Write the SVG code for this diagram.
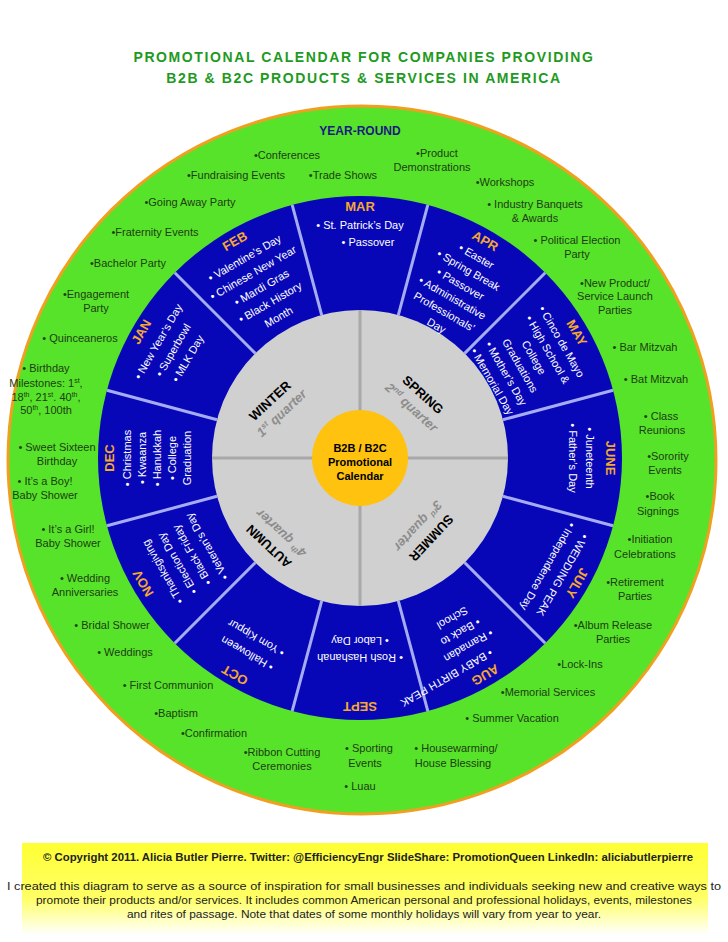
<svg xmlns="http://www.w3.org/2000/svg" width="728" height="942" viewBox="0 0 728 942">
<defs>
<linearGradient id="fy" x1="0" y1="0" x2="0" y2="1"><stop offset="0" stop-color="#ffff33"/><stop offset="0.6" stop-color="#ffff66"/><stop offset="1" stop-color="#ffffff"/></linearGradient>
<style>
text{font-family:"Liberation Sans",Arial,sans-serif}
.t{font-size:14px;font-weight:bold;fill:#1e9a1e;text-anchor:middle;letter-spacing:1.6px}
.g{font-size:11px;fill:#1d3d12;text-anchor:middle}
.ml{font-size:13px;font-weight:bold;fill:#f5a830;text-anchor:middle}
.mi{font-size:11px;fill:#ffffff;text-anchor:middle}
.q{font-size:13px;font-weight:bold;fill:#000;text-anchor:middle}
.qq{font-size:13px;font-weight:bold;font-style:italic;fill:#8c8c8c;text-anchor:middle}
.div{stroke:#a6acf2;stroke-width:3}
.f{font-size:11px;fill:#222;text-anchor:middle}
</style>
</defs>
<rect width="728" height="942" fill="#fff"/>
<text class="t" x="364" y="62">PROMOTIONAL CALENDAR FOR COMPANIES PROVIDING</text>
<text class="t" x="364" y="83">B2B &amp; B2C PRODUCTS &amp; SERVICES IN AMERICA</text>
<g id="wheel">
<circle cx="362" cy="460" r="354" fill="#57e32a" stroke="#f0a020" stroke-width="3"/>
<circle cx="360" cy="458" r="262" fill="#0707b8"/>
<circle cx="360" cy="458" r="148" fill="#d0d0d0"/>
</g>
<g id="connectors">
<g id="dividers">
<line class="div" x1="360" y1="310" x2="360" y2="196" transform="rotate(15 360 458)"/>
<line class="div" x1="360" y1="310" x2="360" y2="196" transform="rotate(45 360 458)"/>
<line class="div" x1="360" y1="310" x2="360" y2="196" transform="rotate(75 360 458)"/>
<line class="div" x1="360" y1="310" x2="360" y2="196" transform="rotate(105 360 458)"/>
<line class="div" x1="360" y1="310" x2="360" y2="196" transform="rotate(135 360 458)"/>
<line class="div" x1="360" y1="310" x2="360" y2="196" transform="rotate(165 360 458)"/>
<line class="div" x1="360" y1="310" x2="360" y2="196" transform="rotate(195 360 458)"/>
<line class="div" x1="360" y1="310" x2="360" y2="196" transform="rotate(225 360 458)"/>
<line class="div" x1="360" y1="310" x2="360" y2="196" transform="rotate(255 360 458)"/>
<line class="div" x1="360" y1="310" x2="360" y2="196" transform="rotate(285 360 458)"/>
<line class="div" x1="360" y1="310" x2="360" y2="196" transform="rotate(315 360 458)"/>
<line class="div" x1="360" y1="310" x2="360" y2="196" transform="rotate(345 360 458)"/>
</g>
<g stroke="#a8a8a8" stroke-width="3">
<line x1="360" y1="310" x2="360" y2="606"/>
<line x1="212" y1="458" x2="508" y2="458"/>
</g>
</g>
<g id="center">
<circle cx="360" cy="458" r="48" fill="#ffc20e"/>
<text class="q" style="font-size:11px" x="360" y="452">B2B / B2C</text>
<text class="q" style="font-size:11px" x="360" y="466">Promotional</text>
<text class="q" style="font-size:11px" x="360" y="480">Calendar</text>
</g>
<g id="quarters">
<g transform="translate(273,404) rotate(-43)"><text class="q" x="0" y="0">WINTER</text><text class="qq" x="0" y="17">1<tspan font-size="8" dy="-5">st</tspan><tspan dy="5"> quarter</tspan></text></g>
<g transform="translate(420,398) rotate(42)"><text class="q" x="0" y="0">SPRING</text><text class="qq" x="0" y="17">2<tspan font-size="8" dy="-5">nd</tspan><tspan dy="5"> quarter</tspan></text></g>
<g transform="translate(428,535) rotate(133)"><text class="q" x="0" y="0">SUMMER</text><text class="qq" x="0" y="18">3<tspan font-size="8" dy="-5">rd</tspan><tspan dy="5"> quarter</tspan></text></g>
<g transform="translate(272,543) rotate(223)"><text class="q" x="0" y="0">AUTUMN</text><text class="qq" x="0" y="18">4<tspan font-size="8" dy="-5">th</tspan><tspan dy="5"> quarter</tspan></text></g>
</g>
<g id="m-mar" transform="rotate(0 360 458)"><text class="ml" x="360" y="211">MAR</text><text class="mi" x="360" y="229">• St. Patrick’s Day</text><text class="mi" x="368" y="246">• Passover</text></g>
<g id="m-apr" transform="rotate(30 360 458)"><text class="ml" x="360" y="212">APR</text><text class="mi" x="360" y="229">• Easter</text><text class="mi" x="360" y="245">• Spring Break</text><text class="mi" x="360" y="261">• Passover</text><text class="mi" x="360" y="277">• Administrative</text><text class="mi" x="360" y="293">Professionals’</text><text class="mi" x="360" y="309">Day</text></g>
<g id="m-may" transform="rotate(60 360 458)"><text class="ml" x="360" y="212">MAY</text><text class="mi" x="360" y="229">• Cinco de Mayo</text><text class="mi" x="360" y="245">• High School &amp;</text><text class="mi" x="360" y="261">College</text><text class="mi" x="360" y="277">Graduations</text><text class="mi" x="360" y="293">• Mother’s Day</text><text class="mi" x="360" y="309">• Memorial Day</text></g>
<g id="m-jun" transform="rotate(90 360 458)"><text class="ml" x="360" y="212">JUNE</text><text class="mi" x="360" y="232">• Juneteenth</text><text class="mi" x="360" y="249">• Father’s Day</text></g>
<g id="m-jul" transform="rotate(120 360 458)"><text class="ml" x="360" y="212">JULY</text><text class="mi" x="360" y="228">• WEDDING PEAK</text><text class="mi" x="360" y="245">• Independence Day</text></g>
<g id="m-aug" transform="rotate(150 360 458)"><text class="ml" x="360" y="212">AUG</text><text class="mi" x="395" y="228">• BABY BIRTH PEAK</text><text class="mi" x="360" y="245">• Ramadan</text><text class="mi" x="360" y="261">• Back to</text><text class="mi" x="360" y="277">School</text></g>
<g id="m-sep" transform="rotate(180 360 458)"><text class="ml" x="360" y="214">SEPT</text><text class="mi" x="360" y="262">• Rosh Hashanah</text><text class="mi" x="360" y="279">• Labor Day</text></g>
<g id="m-oct" transform="rotate(210 360 458)"><text class="ml" x="360" y="212">OCT</text><text class="mi" x="360" y="236">• Halloween</text><text class="mi" x="360" y="254">• Yom Kippur</text></g>
<g id="m-nov" transform="rotate(240 360 458)"><text class="ml" x="360" y="212">NOV</text><text class="mi" x="360" y="234">• Thanksgiving</text><text class="mi" x="360" y="251">• Election Day</text><text class="mi" x="360" y="268">• Black Friday</text><text class="mi" x="360" y="285">• Veteran’s Day</text></g>
<g id="m-dec" transform="rotate(270 360 458)"><text class="ml" x="360" y="212">DEC</text><text class="mi" x="360" y="229">• Christmas</text><text class="mi" x="360" y="244">• Kwaanza</text><text class="mi" x="360" y="259">• Hanukkah</text><text class="mi" x="360" y="274">• College</text><text class="mi" x="360" y="289">Graduation</text></g>
<g id="m-jan" transform="rotate(300 360 458)"><text class="ml" x="360" y="210">JAN</text><text class="mi" x="360" y="229">• New Year’s Day</text><text class="mi" x="360" y="246">• Superbowl</text><text class="mi" x="360" y="263">• MLK Day</text></g>
<g id="m-feb" transform="rotate(330 360 458)"><text class="ml" x="360" y="212">FEB</text><text class="mi" x="360" y="231">• Valentine’s Day</text><text class="mi" x="360" y="248">• Chinese New Year</text><text class="mi" x="360" y="265">• Mardi Gras</text><text class="mi" x="360" y="282">• Black History</text><text class="mi" x="360" y="299">Month</text></g>
<g id="events">
<text x="360" y="135" style="font-size:12px;font-weight:bold;fill:#1a1a80;text-anchor:middle">YEAR-ROUND</text>
<text class="g" x="287" y="159">•Conferences</text>
<text class="g" x="437" y="157">•Product</text><text class="g" x="432" y="171">Demonstrations</text>
<text class="g" x="236" y="179">•Fundraising Events</text>
<text class="g" x="343" y="179">•Trade Shows</text>
<text class="g" x="505" y="186">•Workshops</text>
<text class="g" x="190" y="206">•Going Away Party</text>
<text class="g" x="535" y="208">• Industry Banquets</text><text class="g" x="535" y="222">&amp; Awards</text>
<text class="g" x="155" y="236">•Fraternity Events</text>
<text class="g" x="577" y="244">• Political Election</text><text class="g" x="577" y="258">Party</text>
<text class="g" x="128" y="267">•Bachelor Party</text>
<text class="g" x="615" y="287">•New Product/</text><text class="g" x="615" y="300">Service Launch</text><text class="g" x="615" y="314">Parties</text>
<text class="g" x="96" y="298">•Engagement</text><text class="g" x="96" y="312">Party</text>
<text class="g" x="80" y="342">• Quinceaneros</text>
<text class="g" x="645" y="351">• Bar Mitzvah</text>
<text class="g" x="46" y="372">• Birthday</text>
<text class="g" x="46" y="387">Milestones: 1<tspan font-size="7" dy="-4">st</tspan><tspan dy="4">,</tspan></text>
<text class="g" x="46" y="401">18<tspan font-size="7" dy="-4">th</tspan><tspan dy="4">, 21</tspan><tspan font-size="7" dy="-4">st</tspan><tspan dy="4">. 40</tspan><tspan font-size="7" dy="-4">th</tspan><tspan dy="4">,</tspan></text>
<text class="g" x="46" y="414">50<tspan font-size="7" dy="-4">th</tspan><tspan dy="4">, 100th</tspan></text>
<text class="g" x="656" y="383">• Bat Mitzvah</text>
<text class="g" x="661" y="420">• Class</text><text class="g" x="662" y="434">Reunions</text>
<text class="g" x="57" y="451">• Sweet Sixteen</text><text class="g" x="57" y="465">Birthday</text>
<text class="g" x="668" y="460">•Sorority</text><text class="g" x="665" y="474">Events</text>
<text class="g" x="45" y="485">• It’s a Boy!</text><text class="g" x="45" y="499">Baby Shower</text>
<text class="g" x="660" y="500">•Book</text><text class="g" x="658" y="515">Signings</text>
<text class="g" x="68" y="533">• It’s a Girl!</text><text class="g" x="68" y="547">Baby Shower</text>
<text class="g" x="650" y="543">•Initiation</text><text class="g" x="645" y="558">Celebrations</text>
<text class="g" x="85" y="582">• Wedding</text><text class="g" x="85" y="596">Anniversaries</text>
<text class="g" x="635" y="586">•Retirement</text><text class="g" x="635" y="600">Parties</text>
<text class="g" x="112" y="629">• Bridal Shower</text>
<text class="g" x="613" y="629">•Album Release</text><text class="g" x="613" y="643">Parties</text>
<text class="g" x="125" y="656">• Weddings</text>
<text class="g" x="580" y="668">•Lock-Ins</text>
<text class="g" x="168" y="689">• First Communion</text>
<text class="g" x="548" y="696">•Memorial Services</text>
<text class="g" x="176" y="717">•Baptism</text>
<text class="g" x="512" y="722">• Summer Vacation</text>
<text class="g" x="214" y="737">•Confirmation</text>
<text class="g" x="282" y="756">•Ribbon Cutting</text><text class="g" x="282" y="770">Ceremonies</text>
<text class="g" x="369" y="752">• Sporting</text><text class="g" x="365" y="767">Events</text>
<text class="g" x="456" y="752">• Housewarming/</text><text class="g" x="453" y="767">House Blessing</text>
<text class="g" x="360" y="790">• Luau</text>
</g>
<g id="footer">
<rect x="22" y="843" width="686" height="92" fill="url(#fy)"/>
<text class="f" x="368" y="861" style="font-size:10px;font-weight:bold" textLength="650" lengthAdjust="spacingAndGlyphs">© Copyright 2011.  Alicia Butler Pierre.  Twitter: @EfficiencyEngr   SlideShare: PromotionQueen  LinkedIn: aliciabutlerpierre</text>
<text class="f" x="364" y="890" textLength="714" lengthAdjust="spacingAndGlyphs">I created this diagram to serve as a source of inspiration for small businesses and individuals seeking new and creative ways to</text>
<text class="f" x="364" y="904" textLength="656" lengthAdjust="spacingAndGlyphs">promote their products and/or services.  It includes common American personal and professional holidays, events, milestones</text>
<text class="f" x="364" y="918" textLength="474" lengthAdjust="spacingAndGlyphs">and rites of passage. Note that dates of some monthly holidays will vary from year to year.</text>
</g>
</svg>
